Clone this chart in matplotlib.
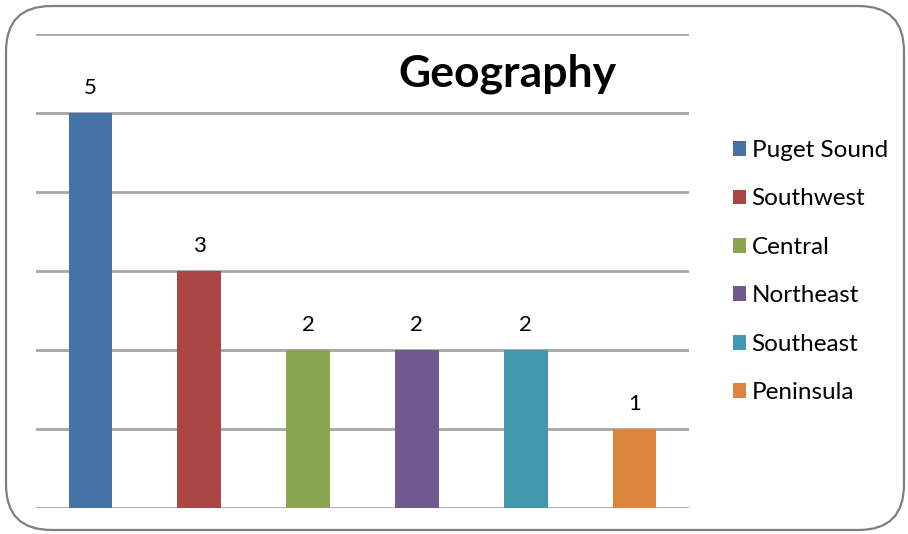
import matplotlib
matplotlib.use('Agg')
import matplotlib.pyplot as plt
from matplotlib.patches import FancyBboxPatch

regions = ['Puget Sound', 'Southwest', 'Central', 'Northeast', 'Southeast', 'Peninsula']
counts = [5, 3, 2, 2, 2, 1]
colors = ['#4572a7', '#aa4643', '#89a54e', '#71588f', '#4198af', '#db843d']

plt.rcParams['font.family'] = ['Lato', 'DejaVu Sans']

W, H = 908, 534
fig = plt.figure(figsize=(W / 100, H / 100), dpi=100)
ax = fig.add_axes([36 / W, (H - 508) / H, (689 - 36) / W, (508 - 34) / H])

# rounded frame around the whole chart
frame = FancyBboxPatch((6 / W, 4 / H), (898 / W), (524 / H),
                       boxstyle='round,pad=0,rounding_size=0.05',
                       transform=fig.transFigure, facecolor='none',
                       edgecolor='#7f7f7f', linewidth=1.6, mutation_aspect=W / H)
fig.patches.append(frame)

x = range(len(regions))
bars = ax.bar(x, counts, width=0.4, color=colors, zorder=3)

for xi, v in zip(x, counts):
    ax.annotate(str(v), (xi, v), xytext=(0, 18), textcoords='offset points',
                ha='center', va='center', fontsize=16)

ax.set_xlim(-0.5, len(regions) - 0.5)
ax.set_ylim(0, 6)
ax.set_yticks(range(7))
ax.yaxis.grid(True, color='#a6a6a6', linewidth=2, zorder=0)
ax.set_axisbelow(True)
ax.tick_params(left=False, bottom=False, labelleft=False, labelbottom=False)
for s in ax.spines.values():
    s.set_visible(False)

fig.text(507 / W, 1 - 74 / H, 'Geography', ha='center', va='center',
         fontsize=32, fontweight='bold')

fig.legend(handles=list(bars), labels=regions, loc='upper left',
           bbox_to_anchor=(733 / W, 1 - 140 / H), frameon=False, fontsize=17.5,
           handlelength=0.55, handleheight=0.55, handletextpad=0.22,
           labelspacing=1.13, borderpad=0, borderaxespad=0)

fig.savefig('out.png', dpi=100)
